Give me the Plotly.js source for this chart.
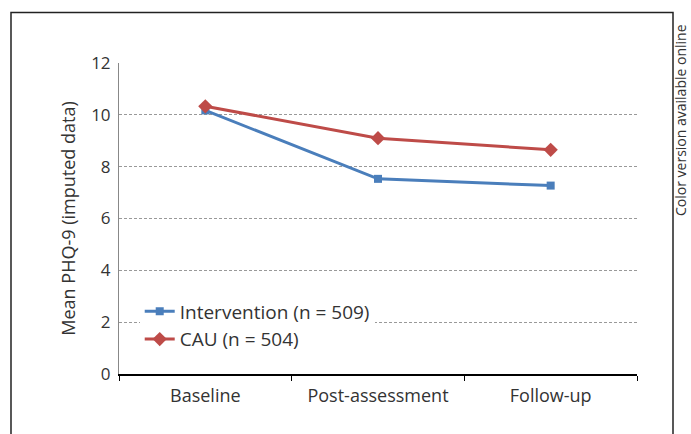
<!DOCTYPE html>
<html><head><meta charset="utf-8">
<script src="https://cdn.plot.ly/plotly-3.0.1.min.js"></script>
<style>body{margin:0;background:#fff}#c{width:691px;height:434px}</style>
</head><body><div id="c"></div>
<script>
const categories = ["Baseline", "Post-assessment", "Follow-up"];
const intervention = [10.17, 7.53, 7.27];
const cau = [10.33, 9.1, 8.65];
const seriesNames = ["Intervention (n = 509)", "CAU (n = 504)"];
const yTicks = [0, 2, 4, 6, 8, 10, 12];

const FONT = '"Open Sans", "Noto Sans", sans-serif';
const traces = [
  {x: categories, y: intervention, name: seriesNames[0], type: 'scatter', mode: 'lines+markers',
   line: {color: '#4a7ebb', width: 3}, marker: {symbol: 'square', size: 8, color: '#4a7ebb'}},
  {x: categories, y: cau, name: seriesNames[1], type: 'scatter', mode: 'lines+markers',
   line: {color: '#be4b48', width: 3}, marker: {symbol: 'diamond', size: 11, color: '#be4b48'}}
];
const layout = {
  width: 691, height: 434,
  margin: {l: 119, r: 54, t: 63, b: 60},
  paper_bgcolor: '#fff', plot_bgcolor: '#fff',
  font: {family: FONT, size: 18, color: '#333'},
  showlegend: true,
  legend: {x: 0.04, y: 0.262, xanchor: 'left', yanchor: 'top', bgcolor: '#fff',
           font: {size: 19, color: '#333'}, tracegroupgap: 0, itemwidth: 30},
  xaxis: {type: 'category', range: [-0.5, 2.5], tickson: 'boundaries', ticks: 'outside',
          ticklen: 5, tickcolor: '#000', showline: true, linecolor: '#000', linewidth: 2,
          showgrid: false, tickfont: {size: 18, color: '#333'}, ticklabelstandoff: 4, fixedrange: true},
  yaxis: {range: [0, 12], tickvals: yTicks, ticks: '', showline: true, linecolor: '#888',
          linewidth: 1, showgrid: true, gridcolor: '#999', griddash: '3px,2px', gridwidth: 1,
          zeroline: false, tickfont: {size: 17, color: '#333'}, ticklabelstandoff: 4,
          title: {text: 'Mean PHQ-9 (imputed data)', font: {size: 18, color: '#333'}, standoff: 10}},
  shapes: [
    {type: 'rect', xref: 'paper', yref: 'paper', x0: -0.2085, x1: 1.0695, y0: -0.3, y1: 1.1624,
     line: {color: '#222', width: 1.5}, fillcolor: 'rgba(0,0,0,0)', layer: 'below'}
  ],
  annotations: [
    {text: 'Color version available online', xref: 'paper', yref: 'paper',
     x: (681 - 119) / 518, y: (374 - 120) / 311, textangle: -90, showarrow: false,
     borderpad: 0, font: {size: 14, color: '#333'}, xanchor: 'center', yanchor: 'middle'}
  ]
};
Plotly.newPlot('c', traces, layout, {displayModeBar: false, staticPlot: true});
</script></body></html>
